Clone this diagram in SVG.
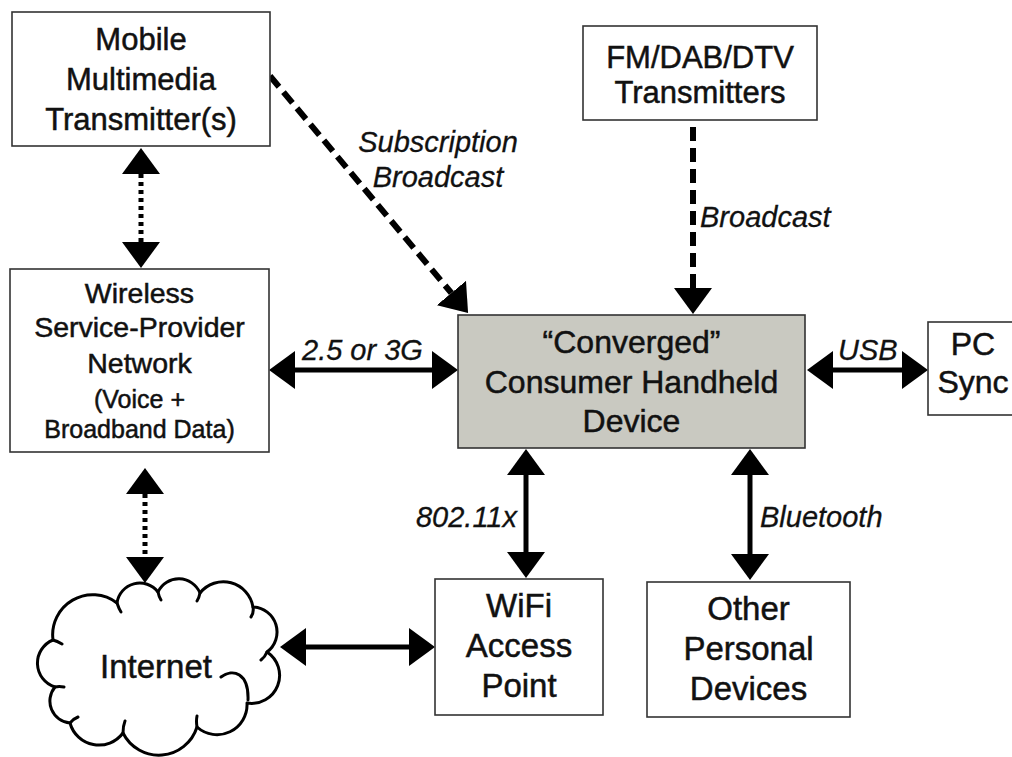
<svg xmlns="http://www.w3.org/2000/svg" width="1012" height="757" viewBox="0 0 1012 757">
<defs>
<style>
.box{fill:#fff;stroke:#333;stroke-width:1.6}
.conv{fill:#c9c9c1;stroke:#333;stroke-width:1.6}
.t{font-family:"Liberation Sans",Arial,Helvetica,sans-serif;fill:#111;stroke:#111;stroke-width:0.5;text-anchor:middle}
.lbl{font-family:"Liberation Sans",Arial,Helvetica,sans-serif;fill:#111;stroke:#111;stroke-width:0.3;font-style:italic;font-size:29px}
.solid{stroke:#000;stroke-width:5;fill:none;marker-start:url(#ah);marker-end:url(#ah)}
.dot{stroke:#000;stroke-width:5;fill:none;stroke-dasharray:4 4;marker-start:url(#ah);marker-end:url(#ah)}
.dash{stroke:#000;stroke-width:6;fill:none;stroke-dasharray:14 7;marker-end:url(#ah)}
.cloud{fill:#fff;stroke:#000;stroke-width:3;stroke-linejoin:round}
.hook{fill:none;stroke:#000;stroke-width:3;stroke-linecap:round}
</style>
<marker id="ah" viewBox="0 0 26 38" refX="0" refY="19" markerWidth="26" markerHeight="38" markerUnits="userSpaceOnUse" orient="auto-start-reverse">
<path d="M0,0 L26,19 L0,38 Z" fill="#000"/>
</marker>
</defs>
<rect width="1012" height="757" fill="#fff"/>

<g id="connectors">
<line class="dot" x1="141" y1="174" x2="141" y2="242"/>
<line class="dot" x1="145" y1="494" x2="145" y2="557"/>
<line class="dash" x1="270" y1="76" x2="451.4" y2="293"/>
<line class="dash" x1="693" y1="127" x2="693" y2="288"/>
<line class="solid" x1="295" y1="370" x2="432" y2="370"/>
<line class="solid" x1="833" y1="370" x2="902" y2="370"/>
<line class="solid" x1="526" y1="475" x2="526" y2="552"/>
<line class="solid" x1="750" y1="475" x2="750" y2="554"/>
<line class="solid" x1="306" y1="647" x2="409" y2="647"/>
<text class="lbl" x="438" y="152" text-anchor="middle">Subscription</text>
<text class="lbl" x="438" y="187" text-anchor="middle">Broadcast</text>
<text class="lbl" x="700" y="227">Broadcast</text>
<text class="lbl" x="302" y="360">2.5 or 3G</text>
<text class="lbl" x="838" y="360">USB</text>
<text class="lbl" x="517" y="527" text-anchor="end">802.11x</text>
<text class="lbl" x="760" y="527">Bluetooth</text>
</g>

<g id="mobile">
<rect class="box" x="12" y="12" width="258" height="134"/>
<text class="t" font-size="31" x="141" y="50">Mobile</text>
<text class="t" font-size="31" x="141" y="90">Multimedia</text>
<text class="t" font-size="31" x="141" y="130">Transmitter(s)</text>
</g>

<g id="fm">
<rect class="box" x="583" y="26" width="234" height="94"/>
<text class="t" font-size="31" x="700" y="68">FM/DAB/DTV</text>
<text class="t" font-size="31" x="700" y="103">Transmitters</text>
</g>

<g id="wireless">
<rect class="box" x="10" y="269" width="259" height="183"/>
<text class="t" font-size="28.5" x="139.5" y="303">Wireless</text>
<text class="t" font-size="28.5" x="139.5" y="337">Service-Provider</text>
<text class="t" font-size="28.5" x="139.5" y="373">Network</text>
<text class="t" font-size="25" x="139.5" y="408">(Voice +</text>
<text class="t" font-size="25" x="139.5" y="438">Broadband Data)</text>
</g>

<g id="converged">
<rect class="conv" x="458" y="315" width="347" height="133"/>
<text class="t" font-size="32" x="631.5" y="353">“Converged”</text>
<text class="t" font-size="32" x="631.5" y="393">Consumer Handheld</text>
<text class="t" font-size="32" x="631.5" y="432">Device</text>
</g>

<g id="pcsync">
<rect class="box" x="928" y="322" width="100" height="93"/>
<text class="t" font-size="32" x="973" y="355">PC</text>
<text class="t" font-size="32" x="973" y="393">Sync</text>
</g>

<g id="wifi">
<rect class="box" x="435" y="579" width="168" height="136"/>
<text class="t" font-size="33" x="519" y="617">WiFi</text>
<text class="t" font-size="33" x="519" y="657">Access</text>
<text class="t" font-size="33" x="519" y="697">Point</text>
</g>

<g id="other">
<rect class="box" x="647" y="582" width="203" height="135"/>
<text class="t" font-size="33" x="748.5" y="620">Other</text>
<text class="t" font-size="33" x="748.5" y="660">Personal</text>
<text class="t" font-size="33" x="748.5" y="700">Devices</text>
</g>

<g id="internet">
<path class="cloud" d="M53,640 A40,40 0 0 1 117,603 A23,23 0 0 1 158,592 A23,23 0 0 1 200,593 A30,30 0 0 1 253,607 A25,25 0 0 1 267,652 A28,28 0 0 1 247,703 A30,30 0 0 1 197,727 A40,40 0 0 1 123,733 A30,30 0 0 1 70,723 A22,22 0 0 1 55,687 A25,25 0 0 1 53,640 Z"/>
<path class="hook" d="M117,603 Q119,609 121,612 M158,592 Q159,597 161,600 M200,593 Q199,598 197,601 M253,607 Q254,613 251,617 M267,652 Q265,657 261,660 M221,677 C233,668 249,673 248,700 M197,727 Q196,721 197,716 M123,733 Q123,726 125,721 M70,723 Q73,719 78,717 M55,687 Q59,686 64,687 M53,640 Q57,641 62,644"/>
<text class="t" font-size="33" x="156" y="678">Internet</text>
</g>
</svg>
